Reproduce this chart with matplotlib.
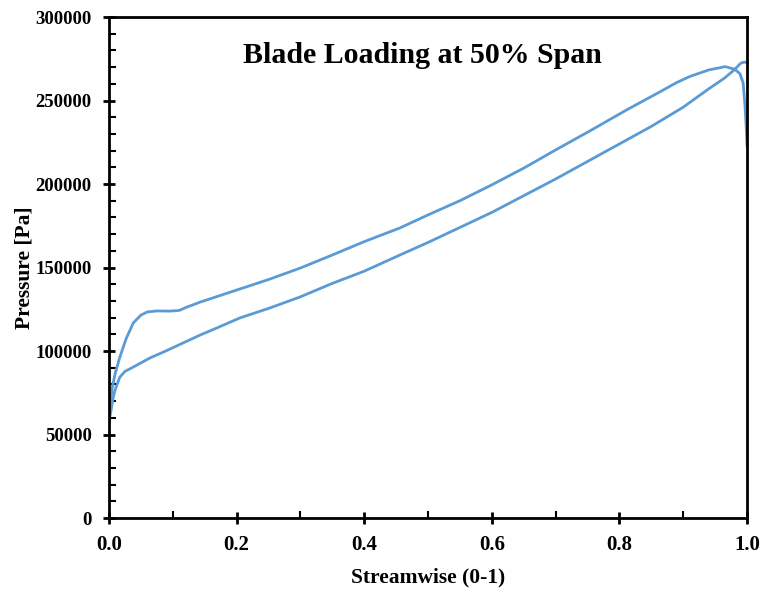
import numpy as np
import matplotlib
matplotlib.use('Agg')
import matplotlib.pyplot as plt
from matplotlib.ticker import MultipleLocator, FormatStrFormatter

# upper curve
upper_x = [0.0, 0.002, 0.005, 0.01, 0.017, 0.027, 0.038, 0.05, 0.06, 0.075, 0.095,
           0.11, 0.122, 0.143, 0.2, 0.25, 0.3, 0.35, 0.4, 0.456, 0.5, 0.55, 0.6, 0.65,
           0.7, 0.75, 0.811, 0.864, 0.89, 0.911, 0.94, 0.966, 0.981, 0.989, 0.994,
           0.997, 0.999, 1.0]
upper_p = [58000, 68000, 78000, 87000, 96400, 107500, 116800, 121500, 123400, 124000, 123900,
           124300, 126300, 129300, 136500, 142800, 149700, 157500, 165500, 173700, 181500, 190000,
           199500, 209500, 220400, 231000, 244300, 255300, 260800, 264500, 268300, 270300, 268700,
           266000, 260500, 246000, 232000, 223000]

# lower curve
lower_x = [0.0, 0.003, 0.006, 0.0094, 0.017, 0.025, 0.038, 0.064, 0.09, 0.116, 0.143,
           0.169, 0.205, 0.25, 0.299, 0.35, 0.4, 0.456, 0.5, 0.55, 0.6, 0.65, 0.7, 0.75,
           0.8, 0.85, 0.9, 0.94, 0.965, 0.981, 0.989, 0.992, 0.997, 1.0]
lower_p = [57500, 64000, 71000, 76600, 84400, 87800, 90400, 95800, 100200, 104800, 109600,
           113800, 119800, 125500, 132300, 140500, 147800, 157500, 165000, 174000, 183000, 193000,
           203000, 213500, 224000, 234500, 246000, 257000, 263500, 268700, 271900, 272700, 273000,
           272500]

plt.rcParams['font.family'] = ['Liberation Serif', 'DejaVu Serif']
plt.rcParams['font.weight'] = 'bold'

fig = plt.figure(figsize=(7.66, 5.89), dpi=100)
ax = fig.add_axes([0.1423, 0.1205, 0.8329, 0.8506])

line_color = '#5B9BD5'
ax.plot(upper_x, upper_p, color=line_color, linewidth=2.0, solid_joinstyle='round')
ax.plot(lower_x, lower_p, color=line_color, linewidth=2.0, solid_joinstyle='round')

ax.set_xlim(0, 1.0)
ax.set_ylim(0, 300000)

ax.xaxis.set_major_locator(MultipleLocator(0.2))
ax.xaxis.set_minor_locator(MultipleLocator(0.1))
ax.yaxis.set_major_locator(MultipleLocator(50000))
ax.yaxis.set_minor_locator(MultipleLocator(10000))
ax.xaxis.set_major_formatter(FormatStrFormatter('%.1f'))
ax.yaxis.set_major_formatter(FormatStrFormatter('%d'))

ax.tick_params(which='major', direction='inout', length=9, width=2)
ax.tick_params(which='minor', direction='in', length=5, width=1.5)
ax.tick_params(top=False, right=False, which='both')
ax.tick_params(axis='x', which='major', pad=8, labelsize=15)
ax.tick_params(axis='y', which='major', pad=8, labelsize=13.5)

for s in ax.spines.values():
    s.set_linewidth(2)
    s.set_color('black')

ax.set_xlabel('Streamwise (0-1)', fontsize=15.5, fontweight='bold', labelpad=9)
ax.set_ylabel('Pressure [Pa]', fontsize=15.5, fontweight='bold', labelpad=1)

ax.text(0.492, 0.924, 'Blade Loading at 50% Span', transform=ax.transAxes,
        ha='center', va='center', fontsize=21.5, fontweight='bold')

fig.savefig('out.png', dpi=100)
